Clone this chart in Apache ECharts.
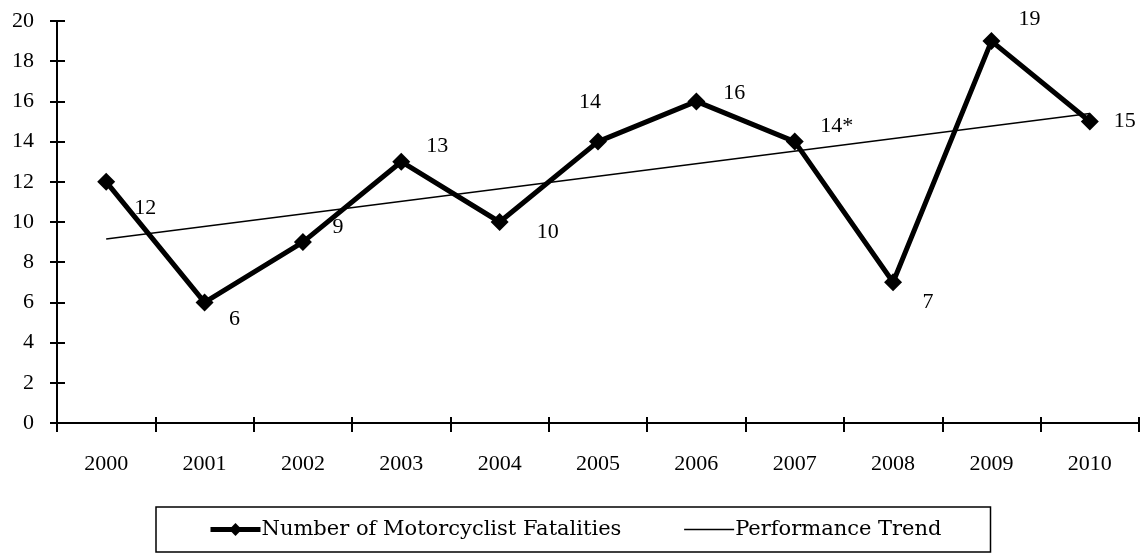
<!DOCTYPE html>
<html>
<head>
<meta charset="utf-8">
<script src="https://cdn.jsdelivr.net/npm/echarts@6/dist/echarts.min.js"></script>
<style>
  html, body { margin: 0; padding: 0; background: #fff; }
  #chart { width: 1147px; height: 553px; }
</style>
</head>
<body>
<div id="chart"></div>
<script>
// data
const years = ["2000", "2001", "2002", "2003", "2004", "2005", "2006", "2007", "2008", "2009", "2010"]
const fatalities = [12, 6, 9, 13, 10, 14, 16, 14, 7, 19, 15]
const pointLabels = ["12", "6", "9", "13", "10", "14", "16", "14*", "7", "19", "15"]
const trendYears = ["2000", "2010"]
const trendValues = [9.15, 15.4]
const yTicks = { min: 0, max: 20, step: 2 }

const font = "Liberation Serif"
const legendFont = "DejaVu Serif"

// where each point label sits relative to its marker
const labelShift = [
  [39, 26], [30, 17], [35, -15], [36, -15], [48, 10], [-8, -39],
  [38, -8], [42, -15], [35, 20], [38, -22], [35, 0]
]

const chart = echarts.init(document.getElementById("chart"))

const fatalData = fatalities.map((v, i) => ({
  value: v,
  label: {
    show: true,
    formatter: pointLabels[i],
    position: "inside",
    offset: labelShift[i]
  }
}))

const option = {
  animation: false,
  backgroundColor: "#fff",
  textStyle: { fontFamily: font },
  grid: { left: 57, right: 8, top: 21, bottom: 130 },
  legend: {
    left: 156,
    top: 507,
    padding: [12, 49, 12, 52],
    borderColor: "#000",
    borderWidth: 1.5,
    itemWidth: 50,
    itemHeight: 16,
    itemGap: 62,
    textStyle: { fontFamily: legendFont, fontSize: 21, color: "#000", padding: [0, 0, 0, -4] },
    data: [
      { name: "Number of Motorcyclist Fatalities", lineStyle: { width: 5 } },
      { name: "Performance Trend", lineStyle: { width: 1.5 } }
    ]
  },
  xAxis: [
    {
      type: "category",
      data: years,
      axisLine: { lineStyle: { color: "#000", width: 2 } },
      axisTick: { show: true, length: 9, lineStyle: { color: "#000", width: 2 } },
      axisLabel: { color: "#000", fontFamily: font, fontSize: 22, margin: 30 }
    },
    {
      type: "category",
      data: years,
      position: "bottom",
      axisLine: { show: false },
      axisTick: { show: true, inside: true, length: 6, lineStyle: { color: "#000", width: 2 } },
      axisLabel: { show: false }
    }
  ],
  yAxis: [
    {
      type: "value",
      min: yTicks.min,
      max: yTicks.max,
      interval: yTicks.step,
      splitLine: { show: false },
      axisLine: { show: true, lineStyle: { color: "#000", width: 2 } },
      axisTick: { show: true, length: 7, lineStyle: { color: "#000", width: 2 } },
      axisLabel: { color: "#000", fontFamily: font, fontSize: 22, margin: 23 }
    },
    {
      type: "value",
      min: yTicks.min,
      max: yTicks.max,
      interval: yTicks.step,
      position: "left",
      splitLine: { show: false },
      axisLine: { show: false },
      axisTick: { show: true, inside: true, length: 8, lineStyle: { color: "#000", width: 2 } },
      axisLabel: { show: false }
    }
  ],
  series: [
    {
      name: "Number of Motorcyclist Fatalities",
      type: "line",
      data: fatalData,
      symbol: "diamond",
      symbolSize: 18,
      itemStyle: { color: "#000" },
      lineStyle: { color: "#000", width: 5 },
      label: { color: "#000", fontFamily: font, fontSize: 22 },
      z: 3
    },
    {
      name: "Performance Trend",
      type: "line",
      data: trendYears.map((y, i) => [y, trendValues[i]]),
      symbol: "none",
      itemStyle: { color: "rgba(0,0,0,0)" },
      lineStyle: { color: "#000", width: 1.5 },
      z: 2
    }
  ]
}

chart.setOption(option)
</script>
</body>
</html>
